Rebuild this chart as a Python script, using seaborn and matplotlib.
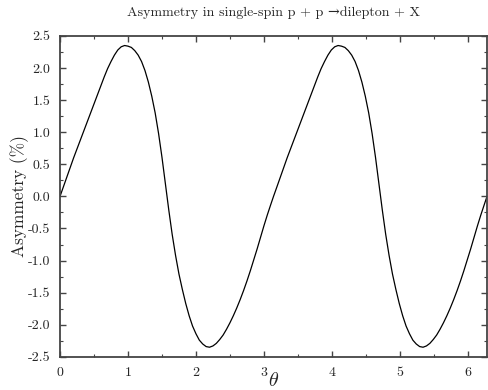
import numpy as np
import pandas as pd
import matplotlib
import matplotlib.pyplot as plt
import seaborn as sns
from matplotlib.ticker import MultipleLocator, FormatStrFormatter

matplotlib.use("Agg")

# first period: theta 0 .. pi, asymmetry (%)
theta_a = [0.00, 0.05, 0.10, 0.15, 0.20, 0.25, 0.30, 0.35, 0.40, 0.45,
           0.50, 0.55, 0.60, 0.65, 0.70, 0.75, 0.80, 0.85, 0.90, 0.95,
           1.00, 1.05, 1.10, 1.15, 1.20, 1.25, 1.30, 1.35, 1.40, 1.45,
           1.50, 1.55, 1.60, 1.65, 1.70, 1.75, 1.80, 1.85, 1.90, 1.95,
           2.00, 2.05, 2.10, 2.15, 2.20, 2.25, 2.30, 2.35, 2.40, 2.45,
           2.50, 2.55, 2.60, 2.65, 2.70, 2.75, 2.80, 2.85, 2.90, 2.95,
           3.00, 3.05, 3.10, 3.1416]
asym_a = [0.00, 0.15, 0.30, 0.45, 0.60, 0.74, 0.88, 1.02, 1.16, 1.30,
          1.44, 1.58, 1.72, 1.86, 1.99, 2.10, 2.20, 2.28, 2.33, 2.35,
          2.34, 2.32, 2.27, 2.20, 2.10, 1.96, 1.78, 1.56, 1.30, 0.98,
          0.61, 0.20, -0.21, -0.59, -0.92, -1.21, -1.45, -1.67, -1.86, -2.02,
          -2.14, -2.24, -2.30, -2.34, -2.35, -2.33, -2.29, -2.23, -2.16, -2.07,
          -1.97, -1.86, -1.74, -1.61, -1.47, -1.32, -1.16, -0.99, -0.82, -0.64,
          -0.46, -0.29, -0.13, 0.00]

# second period: theta pi .. 2 pi
theta_b = [3.192, 3.242, 3.292, 3.342, 3.392, 3.442, 3.492, 3.542, 3.592, 3.642,
           3.692, 3.742, 3.792, 3.842, 3.892, 3.942, 3.992, 4.042, 4.092, 4.142,
           4.192, 4.242, 4.292, 4.342, 4.392, 4.442, 4.492, 4.542, 4.592, 4.642,
           4.692, 4.742, 4.792, 4.842, 4.892, 4.942, 4.992, 5.042, 5.092, 5.142,
           5.192, 5.242, 5.292, 5.342, 5.392, 5.442, 5.492, 5.542, 5.592, 5.642,
           5.692, 5.742, 5.792, 5.842, 5.892, 5.942, 5.992, 6.042, 6.092, 6.142,
           6.192, 6.242, 6.2832]
asym_b = [0.15, 0.30, 0.45, 0.60, 0.74, 0.88, 1.02, 1.16, 1.30, 1.44,
          1.58, 1.72, 1.86, 1.99, 2.10, 2.20, 2.28, 2.33, 2.35, 2.34,
          2.32, 2.27, 2.20, 2.10, 1.96, 1.78, 1.56, 1.30, 0.98, 0.61,
          0.20, -0.21, -0.59, -0.92, -1.21, -1.45, -1.67, -1.86, -2.02, -2.14,
          -2.24, -2.30, -2.34, -2.35, -2.33, -2.29, -2.23, -2.16, -2.07, -1.97,
          -1.86, -1.74, -1.61, -1.47, -1.32, -1.16, -0.99, -0.82, -0.64, -0.46,
          -0.29, -0.13, 0.00]

df = pd.DataFrame({"theta": theta_a + theta_b, "asym": asym_a + asym_b})

sns.set_style("ticks")
plt.rcParams.update({
    "font.family": "serif",
    "font.serif": ["cmr10"],
    "mathtext.fontset": "cm",
    "axes.unicode_minus": False,
    "axes.formatter.use_mathtext": True,
})

fig = plt.figure(figsize=(4.88, 3.9), dpi=100)
ax = fig.add_axes([0.123, 0.085, 0.875, 0.823])

sns.lineplot(data=df, x="theta", y="asym", color="black", linewidth=0.9,
             estimator=None, sort=True, ax=ax)

ax.set_xlim(0, 2 * np.pi)
ax.set_ylim(-2.5, 2.5)
ax.xaxis.set_major_locator(MultipleLocator(1))
ax.xaxis.set_minor_locator(MultipleLocator(0.5))
ax.yaxis.set_major_locator(MultipleLocator(0.5))
ax.yaxis.set_minor_locator(MultipleLocator(0.25))
ax.yaxis.set_major_formatter(FormatStrFormatter("%.1f"))
ax.xaxis.set_major_formatter(FormatStrFormatter("%d"))

ax.tick_params(which="both", direction="in", top=True, right=True,
               color="#444444", labelsize=10)
ax.tick_params(which="major", length=4, width=1.0, pad=7)
ax.tick_params(which="minor", length=2, width=0.8)
for s in ax.spines.values():
    s.set_color("#444444")
    s.set_linewidth(1.3)

ax.set_title("Asymmetry in single-spin p + p \u2192dilepton + X",
             fontsize=10.1, pad=14, family=["cmr10", "DejaVu Serif"])
ax.set_ylabel("Asymmetry (%)", fontsize=12.5, labelpad=-1)
ax.set_xlabel(r"$\theta$", fontsize=14.5, labelpad=-4.5)

fig.savefig("out.png", dpi=100)
plt.close(fig)
